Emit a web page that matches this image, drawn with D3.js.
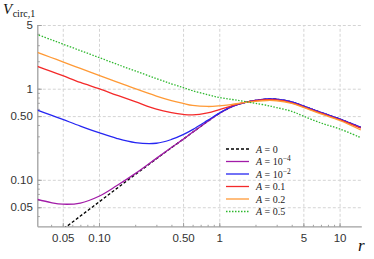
<!DOCTYPE html>
<html>
<head>
<meta charset="utf-8">
<script src="https://cdn.jsdelivr.net/npm/d3@7"></script>
<style>
  body { margin: 0; background: #fff; }
  svg { display: block; }
  .tick text { font-family: "Liberation Sans", Arial, sans-serif; font-size: 11.5px; fill: #333; }
  .grid line { stroke: #d4d4d4; stroke-dasharray: 3,2; }
  .grid path { display: none; }
</style>
</head>
<body>
<svg id="chart" width="374" height="259"></svg>
<script>
// valores (escala log-log)
const radii = [0.03, 0.04, 0.05, 0.07, 0.1, 0.14, 0.2, 0.3, 0.4, 0.5, 0.6, 0.8, 1, 1.25, 1.5, 1.75, 2, 2.5, 3, 4, 5, 7, 10, 15];

const vA0    = [0.0171, 0.0228, 0.0285, 0.040, 0.057, 0.080, 0.114, 0.170, 0.225, 0.278, 0.332, 0.437, 0.535, 0.628, 0.685, 0.72, 0.745, 0.77, 0.765, 0.715, 0.645, 0.548, 0.465, 0.376];
const vA1e4  = [0.0615, 0.0562, 0.054, 0.0556, 0.066, 0.086, 0.117, 0.172, 0.226, 0.278, 0.332, 0.437, 0.535, 0.628, 0.685, 0.72, 0.745, 0.77, 0.765, 0.715, 0.645, 0.548, 0.465, 0.376];
const vA1e2  = [0.588, 0.513, 0.460, 0.389, 0.329, 0.285, 0.256, 0.252, 0.277, 0.313, 0.356, 0.449, 0.54, 0.631, 0.687, 0.721, 0.746, 0.771, 0.766, 0.716, 0.646, 0.549, 0.466, 0.377];
const vA01   = [1.78, 1.55, 1.39, 1.17, 1.0, 0.85, 0.72, 0.595, 0.545, 0.522, 0.515, 0.543, 0.59, 0.645, 0.69, 0.718, 0.738, 0.757, 0.752, 0.70, 0.632, 0.538, 0.457, 0.368];
const vA02   = [2.53, 2.2, 1.97, 1.67, 1.40, 1.19, 1.0, 0.83, 0.74, 0.69, 0.655, 0.638, 0.648, 0.67, 0.695, 0.712, 0.727, 0.742, 0.737, 0.688, 0.622, 0.528, 0.448, 0.352];
const vA05   = [3.98, 3.45, 3.09, 2.62, 2.2, 1.86, 1.57, 1.29, 1.13, 1.03, 0.95, 0.86, 0.80, 0.765, 0.735, 0.71, 0.69, 0.655, 0.62, 0.565, 0.50, 0.42, 0.362, 0.29];

const seriesValues = [vA0, vA1e4, vA1e2, vA01, vA02, vA05];
const legendLabels = [["0", null], ["10", "\u22124"], ["10", "\u22122"], ["0.1", null], ["0.2", null], ["0.5", null]];

const xTicks = [0.05, 0.1, 0.5, 1, 5, 10];
const xTickLabels = ["0.05", "0.10", "0.50", "1", "5", "10"];
const yTicks = [0.05, 0.1, 0.5, 1, 5];
const yTickLabels = ["0.05", "0.10", "0.50", "1", "5"];

// estilos das séries
const colors = ["#000000", "#a21ca8", "#2626f2", "#f42a2a", "#ff9a36", "#2fb82f"];
const dashes = ["3,2", null, null, null, null, "1.5,1.5"];

const svg = d3.select("#chart");
const plotLeft = 37.8, plotRight = 361.8, plotTop = 25, plotBottom = 226.8;

const x = d3.scaleLog().domain([0.031, 15.3]).range([plotLeft, plotRight]);
const y = d3.scaleLog().domain([0.0305, 5]).range([plotBottom, plotTop]);

function minorTicks(lo, hi) {
    const out = [];
    for (let e = -2; e <= 1; e++) {
        for (let m = 1; m <= 9; m++) {
            const v = m * Math.pow(10, e);
            if (v >= lo && v <= hi) out.push(v);
        }
    }
    return out;
}

// grade
svg.append("g")
    .attr("class", "grid")
    .attr("transform", `translate(0,${plotBottom})`)
    .call(d3.axisBottom(x).tickValues(xTicks).tickSize(-(plotBottom - plotTop)).tickFormat(""));
svg.append("g")
    .attr("class", "grid")
    .attr("transform", `translate(${plotLeft},0)`)
    .call(d3.axisLeft(y).tickValues(yTicks).tickSize(-(plotRight - plotLeft)).tickFormat(""));

// eixos: ticks menores e maiores para dentro
const xMinor = svg.append("g").attr("transform", `translate(0,${plotBottom})`)
    .call(d3.axisBottom(x).tickValues(minorTicks(0.031, 15.3)).tickSize(-2).tickFormat(""));
const yMinor = svg.append("g").attr("transform", `translate(${plotLeft},0)`)
    .call(d3.axisLeft(y).tickValues(minorTicks(0.0305, 5)).tickSize(-2).tickFormat(""));

const xAxis = svg.append("g").attr("transform", `translate(0,${plotBottom})`)
    .call(d3.axisBottom(x).tickValues(xTicks).tickSize(-4).tickPadding(8)
        .tickFormat((d, i) => xTickLabels[i]));
const yAxis = svg.append("g").attr("transform", `translate(${plotLeft},0)`)
    .call(d3.axisLeft(y).tickValues(yTicks).tickSize(-4).tickPadding(5)
        .tickFormat((d, i) => yTickLabels[i]));

[xMinor, yMinor, xAxis, yAxis].forEach(g => {
    g.select(".domain").remove();
    g.selectAll(".tick line").attr("stroke", "#a0a0a0");
});
xAxis.selectAll(".tick text").attr("dy", "0.6em");

svg.append("line").attr("x1", plotLeft).attr("x2", plotLeft).attr("y1", plotTop).attr("y2", plotBottom)
    .attr("stroke", "#a0a0a0").attr("stroke-width", 1.3);
svg.append("line").attr("x1", plotLeft).attr("x2", plotRight).attr("y1", plotBottom).attr("y2", plotBottom)
    .attr("stroke", "#a0a0a0").attr("stroke-width", 1.3);

// curvas
svg.append("clipPath").attr("id", "clip")
    .append("rect").attr("x", plotLeft).attr("y", plotTop - 2)
    .attr("width", plotRight - plotLeft).attr("height", plotBottom - plotTop + 2);

const line = d3.line()
    .x(d => x(d[0]))
    .y(d => y(d[1]))
    .curve(d3.curveCatmullRom.alpha(0.5));

const curves = svg.append("g").attr("clip-path", "url(#clip)");
seriesValues.forEach((vals, i) => {
    curves.append("path")
        .datum(radii.map((r, j) => [r, vals[j]]))
        .attr("d", line)
        .attr("fill", "none")
        .attr("stroke", colors[i])
        .attr("stroke-width", 1.3)
        .attr("stroke-dasharray", dashes[i]);
});

// legenda
const legend = svg.append("g");
legendLabels.forEach((lab, i) => {
    const ly = 149 + i * 12.5;
    legend.append("line")
        .attr("x1", 226).attr("x2", 249).attr("y1", ly).attr("y2", ly)
        .attr("stroke", colors[i]).attr("stroke-width", 1.3)
        .attr("stroke-dasharray", dashes[i]);
    const t = legend.append("text")
        .attr("x", 256).attr("y", ly + 3.5)
        .attr("font-family", "Liberation Serif, serif").attr("font-size", 10).attr("fill", "#222");
    t.append("tspan").attr("font-style", "italic").text("A");
    t.append("tspan").text(" = " + lab[0]);
    if (lab[1]) t.append("tspan").attr("dy", -4).attr("font-size", 7.5).text(lab[1]);
});

// rótulos dos eixos
const yl = svg.append("text").attr("x", 3).attr("y", 14)
    .attr("font-family", "Liberation Serif, serif").attr("fill", "#111");
yl.append("tspan").attr("font-style", "italic").attr("font-size", 15).text("V");
yl.append("tspan").attr("font-size", 10).attr("dy", 3).attr("dx", 0.5).text("circ,1");

svg.append("text").attr("x", 358).attr("y", 251)
    .attr("font-family", "Liberation Serif, serif").attr("font-style", "italic")
    .attr("font-size", 17).attr("fill", "#111").text("r");
</script>
</body>
</html>
